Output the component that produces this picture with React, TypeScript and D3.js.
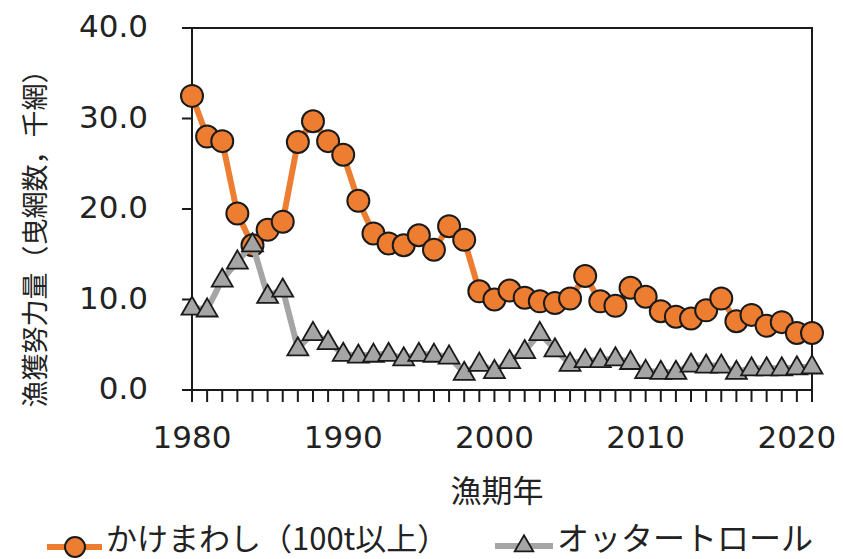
import React from "react";
import { scaleLinear, line, range, symbol, symbolTriangle } from "d3";

const years = range(1980, 2022);

// かけまわし（100t以上）
const kakemawashi = [
  32.5, 28.0, 27.5, 19.5, 16.0, 17.7, 18.6, 27.4, 29.7, 27.5,
  26.0, 20.9, 17.3, 16.2, 16.0, 17.1, 15.5, 18.1, 16.6, 10.9,
  10.0, 11.0, 10.2, 9.8, 9.6, 10.1, 12.6, 9.8, 9.3, 11.3,
  10.3, 8.7, 8.1, 7.9, 8.8, 10.1, 7.6, 8.3, 7.1, 7.5,
  6.3, 6.3,
];

// オッタートロール
const otter = [
  9.1, 8.9, 12.2, 14.2, 16.1, 10.4, 11.1, 4.6, 6.3, 5.3,
  4.0, 3.8, 3.9, 4.0, 3.5, 4.0, 3.9, 3.7, 1.9, 2.9,
  2.1, 3.2, 4.3, 6.3, 4.5, 2.9, 3.3, 3.3, 3.5, 3.1,
  2.1, 2.0, 2.0, 2.8, 2.7, 2.7, 2.0, 2.4, 2.4, 2.4,
  2.5, 2.6,
];

const yTicks = [0, 10, 20, 30, 40];
const xTickLabels = [1980, 1990, 2000, 2010, 2020];

const W = 843;
const H = 559;
const ORANGE = "#ED7D31";
const GRAY = "#A5A5A5";
const DARK = "#1a1a1a";
const NUM_FONT = "'DejaVu Sans', 'Noto Sans CJK JP', sans-serif";
const JP_FONT = "'Noto Sans CJK JP', 'DejaVu Sans', sans-serif";

export default function App() {
  const x = scaleLinear().domain([1980, 2021]).range([192, 812]);
  const y = scaleLinear().domain([0, 40]).range([390, 28]);

  const pathGen = line<number>()
    .x((_, i) => x(years[i]))
    .y((d) => y(d));

  const tri = symbol().type(symbolTriangle).size(190)()!;
  const triLegend = symbol().type(symbolTriangle).size(150)()!;

  return (
    <svg
      width={W}
      height={H}
      style={{ position: "absolute", left: 0, top: 0, background: "#fff" }}
    >
      {/* plot frame */}
      <rect
        x={x(1980)}
        y={y(40)}
        width={x(2021) - x(1980)}
        height={y(0) - y(40)}
        fill="none"
        stroke={DARK}
        strokeWidth={2}
      />

      {/* y ticks */}
      {yTicks.map((t) => (
        <g key={t}>
          <line x1={x(1980) - 10} x2={x(1980)} y1={y(t)} y2={y(t)} stroke={DARK} strokeWidth={2} />
          <text
            x={148}
            y={y(t) + 9}
            textAnchor="end"
            fontFamily={NUM_FONT}
            fontSize={31}
            fill="#222"
          >
            {t.toFixed(1)}
          </text>
        </g>
      ))}

      {/* x ticks, every year */}
      {years.map((yr) => (
        <line key={yr} x1={x(yr)} x2={x(yr)} y1={y(0)} y2={y(0) + 12} stroke={DARK} strokeWidth={2} />
      ))}
      {xTickLabels.map((yr) => (
        <text
          key={yr}
          x={x(yr)}
          y={448}
          textAnchor="middle"
          fontFamily={NUM_FONT}
          fontSize={31}
          fill="#222"
        >
          {yr}
        </text>
      ))}

      {/* axis titles */}
      <text
        x={497}
        y={502}
        textAnchor="middle"
        fontFamily={JP_FONT}
        fontSize={31}
        fill="#222"
      >
        漁期年
      </text>
      <text
        transform={`translate(33,232) rotate(-90)`}
        textAnchor="middle"
        dominantBaseline="central"
        fontFamily={JP_FONT}
        fontSize={27}
        fill="#222"
      >
        漁獲努力量（曳網数，千網）
      </text>

      {/* orange series */}
      <path d={pathGen(kakemawashi)!} fill="none" stroke={ORANGE} strokeWidth={6} strokeLinejoin="round" />
      {kakemawashi.map((v, i) => (
        <circle key={i} cx={x(years[i])} cy={y(v)} r={11} fill={ORANGE} stroke={DARK} strokeWidth={2} />
      ))}

      {/* gray series */}
      <path d={pathGen(otter)!} fill="none" stroke={GRAY} strokeWidth={6} strokeLinejoin="round" />
      {otter.map((v, i) => (
        <path
          key={i}
          d={tri}
          transform={`translate(${x(years[i])},${y(v) + 1})`}
          fill={GRAY}
          stroke={DARK}
          strokeWidth={1.8}
        />
      ))}

      {/* legend */}
      <line x1={47} x2={102} y1={547} y2={547} stroke={ORANGE} strokeWidth={6} />
      <circle cx={75} cy={547} r={10} fill={ORANGE} stroke={DARK} strokeWidth={2} />
      <text x={106} y={550} fontFamily={JP_FONT} fontSize={31} fill="#222">
        かけまわし（100t以上）
      </text>

      <line x1={495} x2={553} y1={546} y2={546} stroke={GRAY} strokeWidth={6} />
      <path d={triLegend} transform="translate(524,546)" fill={GRAY} stroke={DARK} strokeWidth={1.8} />
      <text x={557} y={550} fontFamily={JP_FONT} fontSize={32} fill="#222">
        オッタートロール
      </text>
    </svg>
  );
}
